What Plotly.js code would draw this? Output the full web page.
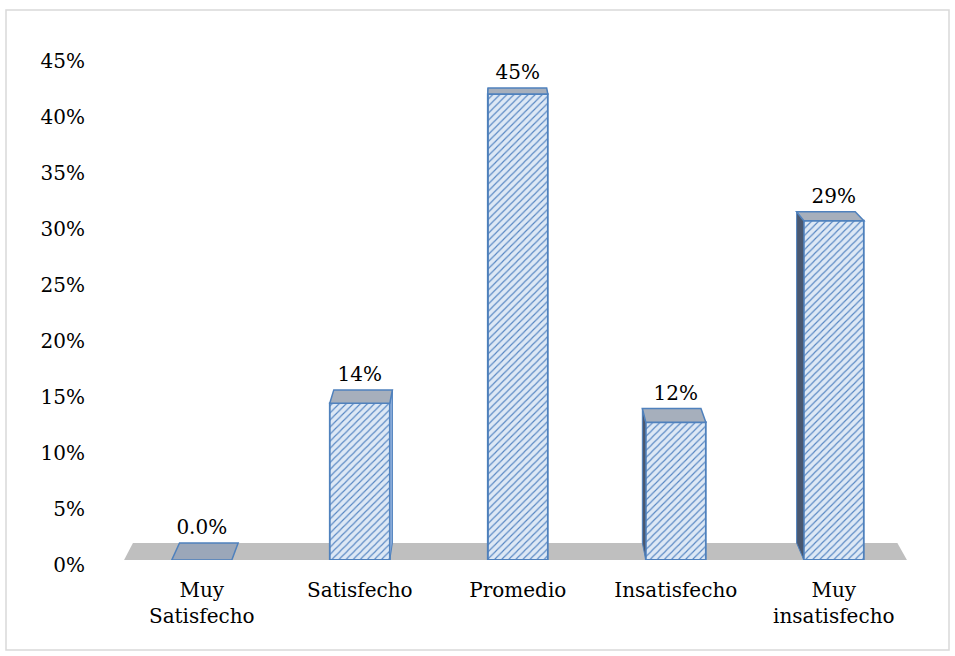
<!DOCTYPE html>
<html><head><meta charset="utf-8">
<script src="https://cdn.plot.ly/plotly-3.0.1.min.js"></script>
<style>html,body{margin:0;padding:0;background:#fff}#chart{width:955px;height:656px}</style>
</head><body><div id="chart"></div>
<script>
// ---- data ----
const categories = ['Muy<br>Satisfecho', 'Satisfecho', 'Promedio', 'Insatisfecho', 'Muy<br>insatisfecho'];
const barHeights = [0, 14.0, 41.6, 12.3, 30.3];      // visible front-face heights (3D view)
const valueLabels = ['0.0%', '14%', '45%', '12%', '29%'];
const yTickVals = [0, 5, 10, 15, 20, 25, 30, 35, 40, 45];
const yTickText = ['0%', '5%', '10%', '15%', '20%', '25%', '30%', '35%', '40%', '45%'];

// ---- layout constants ----
const M = {l: 100, r: 20, t: 56, b: 96};
const plotW = 955 - M.l - M.r, plotH = 656 - M.t - M.b;
const x0px = 201.8, dxpx = 158;            // category spacing in px
const xRange = [(M.l - x0px) / dxpx, (955 - M.r - x0px) / dxpx];
const FONT = 'DejaVu Serif';
const FS = 20;
const barW = 0.38;
// perspective: vanishing point (data coords) and depth factor
const VX = 1.887, VY = 64.3, K = 0.0236;
const proj = (x, y) => [x + K * (VX - x), y + K * (VY - y)];
const pt = p => p[0].toFixed(4) + ',' + p[1].toFixed(4);

const xs = categories.map((c, i) => i);
const shapes = [];

// floor
const fl = -0.492, fr = 4.463;
shapes.push({type: 'path', xref: 'x', yref: 'y', layer: 'below',
  path: 'M ' + pt([fl, 0]) + ' L ' + pt([fr, 0]) + ' L ' + pt(proj(fr, 0)) + ' L ' + pt(proj(fl, 0)) + ' Z',
  fillcolor: '#bfbfbf', line: {width: 0}});

// 3D top and side faces derived from bar heights
xs.forEach((x, i) => {
  const h = barHeights[i];
  const xl = x - barW / 2, xr = x + barW / 2;
  if (h > 0) {
    if (x < VX) {
      shapes.push({type: 'path', xref: 'x', yref: 'y', layer: 'above',
        path: 'M ' + pt([xr, 0]) + ' L ' + pt([xr, h]) + ' L ' + pt(proj(xr, h)) + ' L ' + pt(proj(xr, 0)) + ' Z',
        fillcolor: '#8eaedb', line: {color: '#4f81bd', width: 1}});
    } else {
      shapes.push({type: 'path', xref: 'x', yref: 'y', layer: 'above',
        path: 'M ' + pt([xl, 0]) + ' L ' + pt([xl, h]) + ' L ' + pt(proj(xl, h)) + ' L ' + pt(proj(xl, 0)) + ' Z',
        fillcolor: '#4a5870', line: {color: '#4f81bd', width: 1}});
    }
  }
  shapes.push({type: 'path', xref: 'x', yref: 'y', layer: 'above',
    path: 'M ' + pt([xl, h]) + ' L ' + pt([xr, h]) + ' L ' + pt(proj(xr, h)) + ' L ' + pt(proj(xl, h)) + ' Z',
    fillcolor: h > 0 ? '#a6afbc' : '#9ba7b9', line: {color: '#4f81bd', width: 1.5}});
});

// outer chart border
const px2paperX = px => (px - M.l) / plotW;
const py2paperY = py => (656 - M.b - py) / plotH;
shapes.push({type: 'rect', xref: 'paper', yref: 'paper', layer: 'below',
  x0: px2paperX(6), x1: px2paperX(949), y0: py2paperY(650), y1: py2paperY(10),
  fillcolor: 'rgba(0,0,0,0)', line: {color: '#d9d9d9', width: 1.5}});

const labelY = barHeights.map(h => proj(0, h)[1] + 1.25);

const traces = [
  {type: 'bar', x: xs, y: barHeights, width: barW, hoverinfo: 'skip',
   marker: {color: '#dde8f5', line: {color: '#4f81bd', width: 1.8},
            pattern: {shape: '/', fgcolor: '#5585c2', bgcolor: '#dde8f5', size: 5, solidity: 0.22}}},
  {type: 'scatter', mode: 'text', x: xs, y: labelY, text: valueLabels, textposition: 'middle center',
   textfont: {family: FONT, size: FS, color: '#000'}, cliponaxis: false, hoverinfo: 'skip'}
];

const layout = {
  width: 955, height: 656, margin: M, showlegend: false,
  paper_bgcolor: '#fff', plot_bgcolor: 'rgba(0,0,0,0)',
  font: {family: FONT, size: FS, color: '#000'},
  xaxis: {range: xRange, tickvals: xs, ticktext: categories, showgrid: false, zeroline: false,
          showline: false, ticks: '', ticklabelstandoff: 16, tickfont: {family: FONT, size: FS, color: '#000'}},
  yaxis: {range: [0, 45], tickvals: yTickVals, ticktext: yTickText, showgrid: false, zeroline: false,
          showline: false, ticks: '', ticklabelstandoff: 14, ticklabelshift: 5,
          tickfont: {family: FONT, size: FS, color: '#000'}},
  shapes: shapes
};
Plotly.newPlot('chart', traces, layout, {displayModeBar: false, staticPlot: true});
</script></body></html>
